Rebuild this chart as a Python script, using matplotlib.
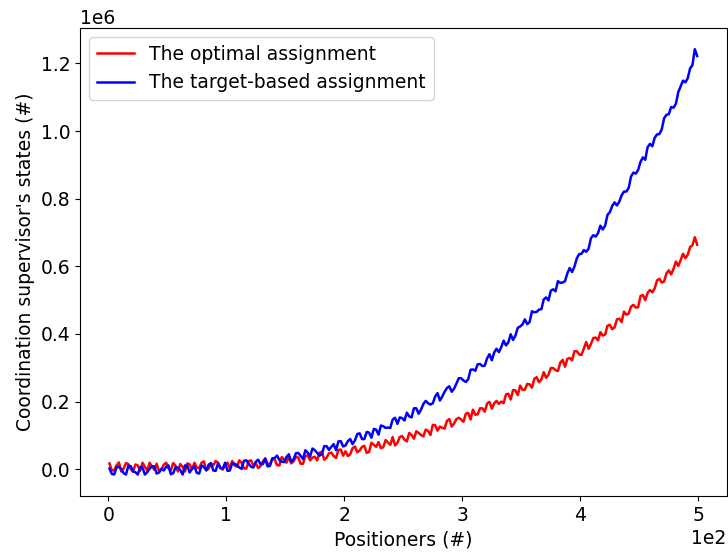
import numpy as np
import matplotlib
matplotlib.use('Agg')
import matplotlib.pyplot as plt

plt.rcParams['font.size'] = 13.5

# number of positioners: 1, 3, 5, ..., 499
positioners = np.arange(1, 500, 2)

# coordination supervisor states, in thousands
optimal_k = [17, -4, -3, 11, 20, -7, 2, 18, 15, 0, -7, 14, 11, -5, 19, 7, -4, 19, 8, -2,
             16, -6, -1, 13, 19, 2, -4, 18, 10, -7, 15, 7, -7, 17, 14, -1, 19, 5, 3, 19,
             23, -4, 1, 16, 11, 24, 19, 4, -1, 14, 19, 2, 24, 11, 7, 26, 19, 2, 2, 24,
             26, 10, 18, 3, 9, 23, 32, 16, 13, 31, 29, 12, 11, 36, 28, 19, 36, 17, 23, 37,
             34, 16, 16, 39, 41, 26, 34, 37, 26, 49, 51, 28, 34, 47, 49, 39, 33, 57, 58, 40,
             53, 39, 44, 62, 67, 50, 55, 66, 69, 48, 51, 78, 72, 66, 80, 62, 65, 86, 79, 72,
             95, 70, 78, 95, 98, 87, 82, 107, 101, 90, 112, 107, 101, 97, 117, 113, 101, 131, 130, 114,
             126, 122, 120, 143, 148, 126, 135, 148, 152, 147, 140, 164, 166, 147, 176, 161, 162, 180, 180, 170,
             194, 199, 179, 195, 202, 193, 200, 195, 221, 223, 206, 234, 233, 219, 247, 235, 235, 252, 251, 241,
             267, 272, 257, 265, 287, 270, 279, 299, 299, 293, 290, 315, 323, 303, 326, 329, 322, 349, 349, 339,
             338, 357, 376, 356, 370, 388, 389, 381, 405, 395, 398, 424, 427, 414, 419, 443, 445, 435, 466, 457,
             460, 481, 486, 478, 479, 512, 515, 500, 521, 530, 523, 535, 558, 563, 552, 555, 579, 588, 576, 593,
             614, 601, 618, 637, 624, 634, 657, 662, 686, 664]

target_k = [2, -14, -16, 5, 7, 0, -12, -16, 10, 9, -7, -9, -16, 6, 5, -16, -9, 1, 9, 8,
            -13, -10, 1, -4, 7, 11, -15, -12, 5, 5, -3, -16, 11, 10, -10, 2, 8, -11, -13, 11,
            6, -3, 13, 18, -4, -5, 17, 3, 1, 19, -5, -4, 17, 16, 12, 5, 1, 25, 26, 16,
            7, 5, 22, 28, 15, 15, 31, 8, 10, 32, 33, 40, 27, 22, 21, 36, 44, 22, 29, 47,
            48, 39, 30, 56, 49, 37, 61, 56, 48, 40, 45, 68, 68, 57, 66, 74, 56, 82, 83, 67,
            70, 83, 89, 74, 85, 104, 106, 89, 89, 110, 108, 93, 119, 117, 102, 129, 127, 122, 123, 122,
            147, 152, 134, 153, 151, 144, 167, 156, 153, 180, 180, 164, 176, 193, 202, 195, 191, 195, 215, 225,
            203, 215, 229, 240, 245, 229, 238, 253, 269, 269, 262, 258, 266, 294, 295, 291, 310, 311, 305, 306,
            328, 340, 322, 345, 356, 346, 361, 380, 366, 375, 399, 382, 395, 418, 422, 428, 443, 429, 435, 467,
            464, 465, 472, 473, 502, 508, 499, 528, 532, 526, 556, 551, 552, 556, 579, 595, 583, 599, 623, 636,
            637, 648, 643, 652, 683, 692, 688, 698, 720, 709, 720, 752, 760, 778, 789, 780, 791, 810, 821, 821,
            832, 866, 877, 874, 885, 909, 922, 915, 952, 962, 955, 980, 990, 991, 1005, 1038, 1048, 1050, 1071, 1069,
            1081, 1115, 1132, 1149, 1144, 1156, 1185, 1195, 1242, 1222]

optimal = np.array(optimal_k) * 1000
target = np.array(target_k) * 1000

fig, ax = plt.subplots(figsize=(7.28, 5.59), dpi=100)
fig.subplots_adjust(left=0.110, right=0.998, top=0.95, bottom=0.113)

ax.plot(positioners, optimal, color='red', linewidth=1.8, label='The optimal assignment')
ax.plot(positioners, target, color='blue', linewidth=1.8, label='The target-based assignment')

ax.ticklabel_format(style='sci', axis='both', scilimits=(0, 0))
ax.set_xlabel('Positioners (#)')
ax.set_ylabel("Coordination supervisor's states (#)")
ax.legend(loc='upper left')

plt.savefig('out.png', dpi=100)
